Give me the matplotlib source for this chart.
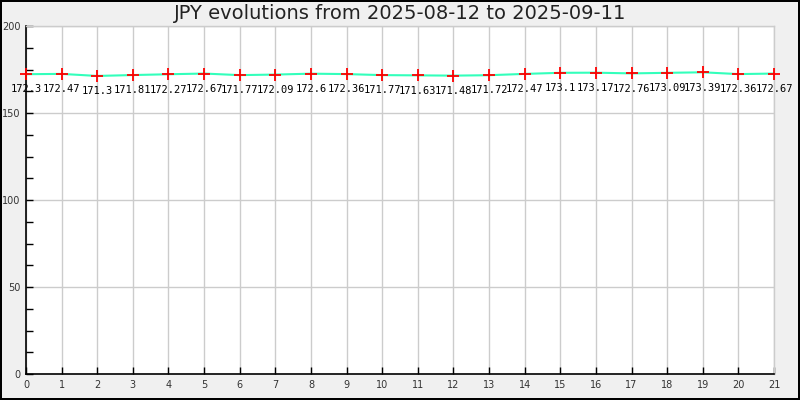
import matplotlib
matplotlib.use("Agg")
import matplotlib.pyplot as plt
from matplotlib.ticker import MultipleLocator

TITLE = "JPY evolutions from 2025-08-12 to 2025-09-11"
days = list(range(22))
rates = [172.3, 172.47, 171.3, 171.81, 172.27, 172.67, 171.77, 172.09, 172.6, 172.36,
         171.77, 171.63, 171.48, 171.72, 172.47, 173.1, 173.17, 172.76, 173.09, 173.39,
         172.36, 172.67]

fig = plt.figure(figsize=(8, 4), dpi=100, facecolor="#f0f0f0",
                 edgecolor="black", linewidth=1.5)
ax = fig.add_axes([0.0325, 0.065, 0.935, 0.87])
ax.set_facecolor("white")

ax.plot(days, rates, color="#33ffbb", linewidth=1.5, zorder=3)
ax.plot(days, rates, linestyle="none", marker="+", color="red",
        markersize=9, markeredgewidth=1.3, zorder=4, clip_on=False)

# value labels under each point
for x, y in zip(days, rates):
    ax.annotate(f"{y:g}", (x, y), xytext=(0, -11), textcoords="offset points",
                ha="center", va="center", fontsize=7.5,
                family="DejaVu Sans Mono", color="black", zorder=5,
                annotation_clip=False)

ax.set_xlim(0, 21)
ax.set_ylim(0, 200)
ax.xaxis.set_major_locator(MultipleLocator(1))
ax.yaxis.set_major_locator(MultipleLocator(50))
ax.yaxis.set_minor_locator(MultipleLocator(12.5))

ax.grid(True, which="major", color="#cccccc", linewidth=1)
ax.set_axisbelow(True)

ax.tick_params(axis="both", which="both", direction="in", colors="black",
               labelcolor="#333333", labelsize=7)
ax.tick_params(axis="both", which="major", length=5, width=1)
ax.tick_params(axis="y", which="minor", length=5, width=1)
ax.tick_params(axis="y", pad=4)
ax.tick_params(axis="x", pad=4)

for side in ("left", "bottom"):
    ax.spines[side].set_color("black")
    ax.spines[side].set_linewidth(1.2)
for side in ("top", "right"):
    ax.spines[side].set_color("#cccccc")
    ax.spines[side].set_linewidth(1)

fig.text(0.5, 0.966, TITLE, ha="center", va="center", fontsize=14,
         color="#222222")

fig.savefig("out.png", dpi=100, facecolor=fig.get_facecolor(),
            edgecolor=fig.get_edgecolor())
